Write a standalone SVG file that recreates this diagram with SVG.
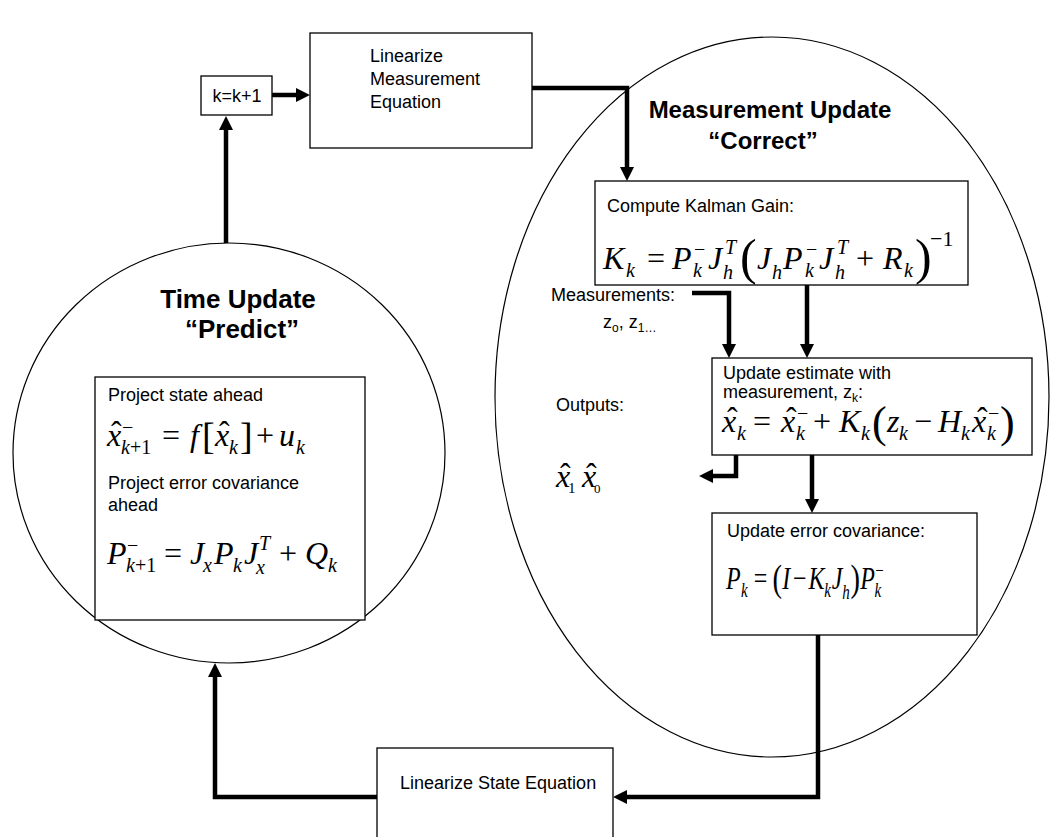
<svg xmlns="http://www.w3.org/2000/svg" width="1052" height="837" viewBox="0 0 1052 837">
<defs>
<style>
.box{fill:#fff;stroke:#000;stroke-width:1.3}
.ring{fill:none;stroke:#000;stroke-width:1.2}
.t{font-family:"Liberation Sans",Arial,sans-serif;font-size:18px;fill:#000}
.b{font-family:"Liberation Sans",Arial,sans-serif;font-weight:bold;fill:#000}
.m{font-family:"Liberation Serif","Times New Roman",serif;font-style:italic;font-size:32px;fill:#000}
.s{font-size:20px}
.n{font-style:normal}
.conn{fill:none;stroke:#000;stroke-width:4.5;stroke-linejoin:miter}
</style>
<marker id="ah" viewBox="0 0 10 10" refX="1" refY="5" markerWidth="3.2" markerHeight="3.2" orient="auto" markerUnits="strokeWidth">
<path d="M0,0 L10,5 L0,10 z" fill="#000"/>
</marker>
</defs>
<rect width="1052" height="837" fill="#fff"/>

<g id="time-update">
<ellipse class="ring" cx="229" cy="453" rx="216" ry="210"/>
<text class="b" font-size="26" x="238" y="308" text-anchor="middle">Time Update</text>
<text class="b" font-size="26" x="242" y="338" text-anchor="middle">“Predict”</text>
</g>

<g id="measurement-update">
<ellipse class="ring" cx="772" cy="397" rx="277" ry="360"/>
<text class="b" font-size="24" x="770" y="118" text-anchor="middle">Measurement Update</text>
<text class="b" font-size="24" x="763" y="149" text-anchor="middle">“Correct”</text>
</g>

<g id="connectors">
<path class="conn" d="M226,243 V129" marker-end="url(#ah)"/>
<path class="conn" d="M272,95 H297" marker-end="url(#ah)"/>
<path class="conn" d="M532,88 H627 V168" marker-end="url(#ah)"/>
<path class="conn" d="M807,285 V345" marker-end="url(#ah)"/>
<path class="conn" d="M692,293 H729 V345" marker-end="url(#ah)"/>
<path class="conn" d="M736,455 V476 H712" marker-end="url(#ah)"/>
<path class="conn" d="M812,455 V500" marker-end="url(#ah)"/>
<path class="conn" d="M818,635 V797 H626" marker-end="url(#ah)"/>
<path class="conn" d="M377,797 H215 V676" marker-end="url(#ah)"/>
</g>

<g id="node-k">
<rect class="box" x="201" y="76" width="71" height="39"/>
<text class="t" x="237" y="102" text-anchor="middle">k=k+1</text>
</g>

<g id="node-linearize-measurement">
<rect class="box" x="310" y="33" width="222" height="115"/>
<text class="t" x="370" y="62">Linearize</text>
<text class="t" x="370" y="85">Measurement</text>
<text class="t" x="370" y="108">Equation</text>
</g>

<g id="node-kalman-gain">
<rect class="box" x="595" y="181" width="373" height="104"/>
<text class="t" x="607" y="212">Compute Kalman Gain:</text>
<text class="m" font-size="34">
<tspan x="603" y="269">K</tspan><tspan class="s" x="626" y="277">k</tspan>
<tspan class="n" x="647" y="269">=</tspan>
<tspan x="672" y="269">P</tspan><tspan class="s n" x="694" y="256">−</tspan><tspan class="s" x="693" y="277">k</tspan>
<tspan x="708" y="269">J</tspan><tspan class="s" x="725" y="254">T</tspan><tspan class="s" x="723" y="279">h</tspan>
<tspan class="n" font-size="50" x="740" y="274">(</tspan>
<tspan x="757" y="269">J</tspan><tspan class="s" x="772" y="279">h</tspan>
<tspan x="783" y="269">P</tspan><tspan class="s n" x="806" y="256">−</tspan><tspan class="s" x="805" y="277">k</tspan>
<tspan x="819" y="269">J</tspan><tspan class="s" x="837" y="254">T</tspan><tspan class="s" x="835" y="279">h</tspan>
<tspan class="n" x="856" y="269">+</tspan>
<tspan x="883" y="269">R</tspan><tspan class="s" x="904" y="277">k</tspan>
<tspan class="n" font-size="50" x="915" y="274">)</tspan>
<tspan class="n" font-size="22" x="930" y="246">−1</tspan>
</text>
</g>

<g id="label-measurements">
<text class="t" font-size="19" x="551" y="301">Measurements:</text>
<text class="t" x="603" y="328">z<tspan font-size="12" dy="4">o</tspan><tspan dy="-4">, z</tspan><tspan font-size="12" dy="4">1…</tspan></text>
</g>

<g id="node-update-estimate">
<rect class="box" x="712" y="358" width="320" height="97"/>
<text class="t" x="723" y="379">Update estimate with</text>
<text class="t" x="723" y="398">measurement, z<tspan font-size="12" dy="4">k</tspan><tspan dy="-4">:</tspan></text>
<text class="m">
<tspan x="722" y="432">x</tspan><tspan class="n" x="727" y="429">ˆ</tspan><tspan class="s" x="737" y="440">k</tspan>
<tspan class="n" x="753" y="432">=</tspan>
<tspan x="781" y="432">x</tspan><tspan class="n" x="786" y="429">ˆ</tspan><tspan class="s n" x="797" y="420">−</tspan><tspan class="s" x="796" y="440">k</tspan>
<tspan class="n" x="813" y="432">+</tspan>
<tspan x="839" y="432">K</tspan><tspan class="s" x="861" y="440">k</tspan>
<tspan class="n" font-size="44" x="872" y="437">(</tspan>
<tspan x="887" y="432">z</tspan><tspan class="s" x="899" y="440">k</tspan>
<tspan class="n" x="914" y="432">−</tspan>
<tspan x="938" y="432">H</tspan><tspan class="s" x="961" y="440">k</tspan>
<tspan x="972" y="432">x</tspan><tspan class="n" x="977" y="429">ˆ</tspan><tspan class="s n" x="988" y="420">−</tspan><tspan class="s" x="987" y="440">k</tspan>
<tspan class="n" font-size="44" x="1000" y="437">)</tspan>
</text>
</g>

<g id="label-outputs">
<text class="t" x="556" y="411">Outputs:</text>
<text class="m" font-size="26">
<tspan x="556" y="487">x</tspan><tspan class="n" x="560" y="485">ˆ</tspan><tspan class="n" font-size="15" x="568" y="493">1</tspan>
<tspan x="582" y="487">x</tspan><tspan class="n" x="586" y="485">ˆ</tspan><tspan class="n" font-size="13" x="594" y="493">0</tspan>
</text>
</g>

<g id="node-error-covariance">
<rect class="box" x="712" y="513" width="265" height="122"/>
<text class="t" x="727" y="537">Update error covariance:</text>
<text class="m" transform="translate(726 0) scale(0.75 1) translate(-726 0)">
<tspan x="726" y="589">P</tspan><tspan class="s" x="746" y="597">k</tspan>
<tspan class="n" x="763" y="589">=</tspan>
<tspan class="n" font-size="38" x="788" y="591">(</tspan>
<tspan x="801" y="589">I</tspan>
<tspan class="n" x="815" y="589">−</tspan>
<tspan x="836" y="589">K</tspan><tspan class="s" x="857" y="597">k</tspan>
<tspan x="867" y="589">J</tspan><tspan class="s" x="881" y="599">h</tspan>
<tspan class="n" font-size="38" x="892" y="591">)</tspan>
<tspan x="905" y="589">P</tspan><tspan class="s n" x="925" y="577">−</tspan><tspan class="s" x="924" y="597">k</tspan>
</text>
</g>

<g id="node-project">
<rect class="box" x="95" y="377" width="270" height="243"/>
<text class="t" x="108" y="401">Project state ahead</text>
<text class="m">
<tspan x="107" y="446">x</tspan><tspan class="n" x="111" y="443">ˆ</tspan><tspan class="s n" x="122" y="434">−</tspan><tspan class="s" x="121" y="454">k</tspan><tspan class="s n">+1</tspan>
<tspan class="n" x="162" y="446">=</tspan>
<tspan x="190" y="446">f</tspan>
<tspan class="n" font-size="38" x="202" y="449">[</tspan>
<tspan x="215" y="446">x</tspan><tspan class="n" x="219" y="443">ˆ</tspan><tspan class="s" x="229" y="454">k</tspan>
<tspan class="n" font-size="38" x="240" y="449">]</tspan>
<tspan class="n" x="256" y="446">+</tspan>
<tspan x="279" y="446">u</tspan><tspan class="s" x="296" y="454">k</tspan>
</text>
<text class="t" x="108" y="489">Project error covariance</text>
<text class="t" x="108" y="511">ahead</text>
<text class="m">
<tspan x="107" y="564">P</tspan><tspan class="s n" x="127" y="552">−</tspan><tspan class="s" x="126" y="572">k</tspan><tspan class="s n">+1</tspan>
<tspan class="n" x="164" y="564">=</tspan>
<tspan x="190" y="564">J</tspan><tspan class="s" x="203" y="572">x</tspan>
<tspan x="214" y="564">P</tspan><tspan class="s" x="233" y="572">k</tspan>
<tspan x="244" y="564">J</tspan><tspan class="s" x="259" y="550">T</tspan><tspan class="s" x="256" y="574">x</tspan>
<tspan class="n" x="279" y="564">+</tspan>
<tspan x="305" y="564">Q</tspan><tspan class="s" x="328" y="572">k</tspan>
</text>
</g>

<g id="node-linearize-state">
<rect class="box" x="377" y="748" width="236" height="100"/>
<text class="t" x="400" y="789">Linearize State Equation</text>
</g>
</svg>
